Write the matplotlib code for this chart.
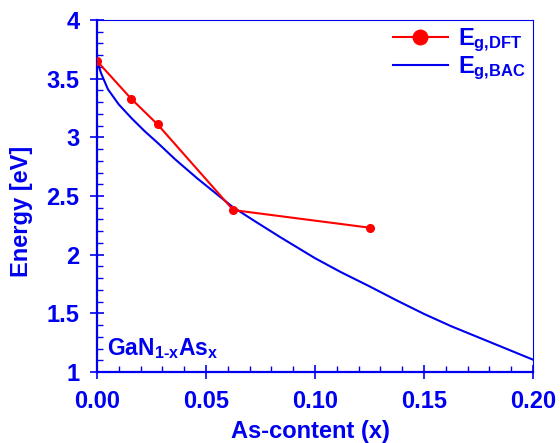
import numpy as np
import matplotlib
matplotlib.use("Agg")
import matplotlib.pyplot as plt
from matplotlib.ticker import MultipleLocator, FormatStrFormatter

plt.rcParams['font.family'] = ['Liberation Sans', 'DejaVu Sans']
plt.rcParams['font.weight'] = 'bold'
plt.rcParams['mathtext.fontset'] = 'custom'
plt.rcParams['mathtext.rm'] = 'Liberation Sans:bold'
plt.rcParams['mathtext.bf'] = 'Liberation Sans:bold'
plt.rcParams['mathtext.it'] = 'Liberation Sans:bold'

# DFT band gaps
x_dft = [0.0, 0.015625, 0.0278, 0.0625, 0.125]
e_dft = [3.65, 3.33, 3.11, 2.38, 2.23]

# BAC model curve
x_bac = [0.0, 0.002, 0.005, 0.01, 0.016, 0.022, 0.028, 0.036, 0.046, 0.054,
         0.062, 0.072, 0.084, 0.10, 0.112, 0.125, 0.1375, 0.15, 0.1625,
         0.175, 0.1875, 0.20]
e_bac = [3.65, 3.54, 3.41, 3.28, 3.16, 3.05, 2.95, 2.81, 2.65, 2.53,
         2.41, 2.29, 2.15, 1.97, 1.85, 1.73, 1.61, 1.495, 1.39,
         1.295, 1.20, 1.105]

blue = '#0000f0'

fig = plt.figure(figsize=(5.6, 4.43), dpi=100)
ax = fig.add_axes([97 / 560, 1 - 372 / 443, 436 / 560, 352 / 443])

ax.plot(x_bac, e_bac, color='#0000ee', lw=1.5, label=r'$E_{g{,}BAC}$', zorder=2)
ax.plot(x_dft, e_dft, color='#ff0000', lw=1.5, marker='o', ms=5.5,
        label=r'$E_{g{,}DFT}$', zorder=3)

ax.set_xlim(0, 0.20)
ax.set_ylim(1, 4)
ax.xaxis.set_major_locator(MultipleLocator(0.05))
ax.xaxis.set_minor_locator(MultipleLocator(0.01))
ax.yaxis.set_minor_locator(MultipleLocator(0.1))
ax.xaxis.set_major_formatter(FormatStrFormatter('%.2f'))
ax.set_yticks([1, 1.5, 2, 2.5, 3, 3.5, 4])
ax.set_yticklabels(['1', '1.5', '2', '2.5', '3', '3.5', '4'])

ax.tick_params(which='major', direction='inout', length=9.5, width=1.2,
               color=blue, labelcolor=blue, labelsize=17, pad=8)
ax.tick_params(which='minor', direction='in', length=4, width=1,
               color=blue)
ax.tick_params(top=False, right=False, which='both')

for side in ['left', 'bottom']:
    ax.spines[side].set_color(blue)
    ax.spines[side].set_linewidth(1.6)
for side in ['top', 'right']:
    ax.spines[side].set_color(blue)
    ax.spines[side].set_linewidth(0.8)

ax.set_xlabel('As-content (x)', color=blue, fontsize=17, fontweight='bold')
ax.set_ylabel('Energy [eV]', color=blue, fontsize=17, fontweight='bold')
ax.xaxis.set_label_coords(0.489, -0.135)
ax.yaxis.set_label_coords(-0.147, 0.455)

ax.text(0.0045, 1.14, r'GaN$_{1\text{-}x}$As$_x$', color=blue, fontsize=16.5,
        fontweight='bold', ha='left', va='baseline')

handles, labels = ax.get_legend_handles_labels()
leg = ax.legend(handles[::-1], labels[::-1], loc='upper right',
                bbox_to_anchor=(1.0, 1.0), frameon=False, fontsize=17,
                markerscale=1.9, handlelength=2.3, handletextpad=0.45,
                labelspacing=0.0, borderaxespad=0.1, borderpad=0.2)
for t in leg.get_texts():
    t.set_color(blue)

fig.savefig('out.png', dpi=100)
